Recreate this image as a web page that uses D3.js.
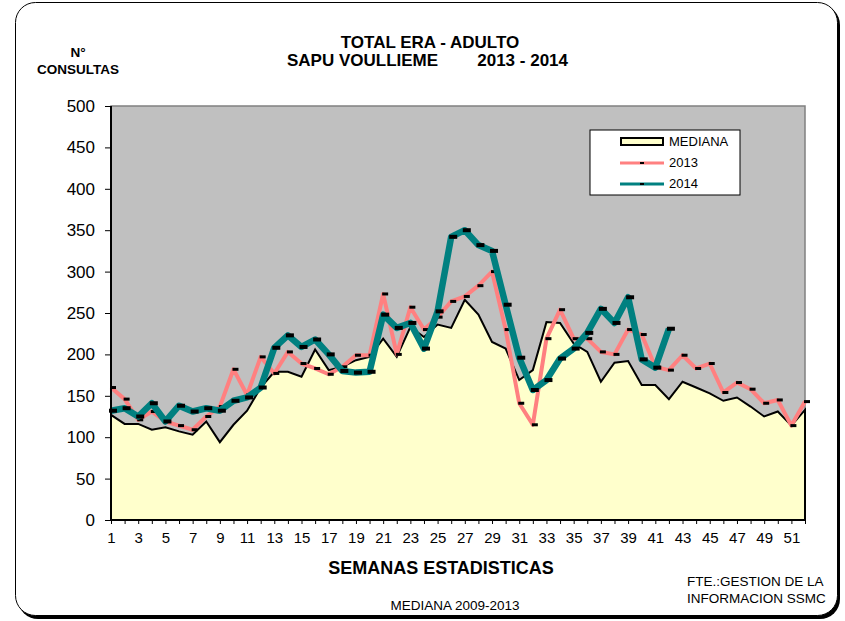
<!doctype html>
<html lang="es">
  <head>
    <meta charset="UTF-8" />
    <title>TOTAL ERA - ADULTO</title>
    <script src="https://unpkg.com/d3@7.9.0/dist/d3.min.js"></script>
    <style>
      body {
        margin: 0;
        background: #fff;
        font-family: Arial, 'Liberation Sans', sans-serif;
        overflow: hidden;
      }
      .tick text {
        fill: #000;
      }
    </style>
  </head>
  <body>
    <svg width="845" height="621"></svg>

    <script>
      const weeks = d3.range(1, 53);
      const xTickLabels = d3.range(1, 53, 2);
      const yTicks = d3.range(0, 501, 50);

      const mediana = [
        127, 116, 116, 109, 112, 107, 103, 119, 94, 115, 132, 160, 179, 179,
        173, 206, 181, 185, 193, 197, 219, 197, 233, 221, 236, 232, 266, 248,
        215, 207, 169, 181, 239, 238, 213, 203, 167, 190, 192, 163, 163, 146,
        167, 160, 153, 144, 148, 137, 125, 131, 114, 133,
      ];
      const s2013 = [
        160, 146, 121, 131, 119, 114, 109, 125, 137, 182, 151, 197, 177, 203,
        189, 183, 176, 185, 199, 199, 273, 200, 257, 230, 245, 264, 270, 283,
        300, 230, 141, 115, 219, 254, 219, 219, 203, 200, 230, 224, 185, 181,
        199, 183, 189, 154, 166, 158, 141, 145, 114, 143,
      ];
      const s2014 = [
        132, 135, 125, 141, 119, 138, 131, 135, 132, 144, 148, 160, 208, 223,
        209, 218, 200, 180, 178, 179, 248, 232, 238, 207, 252, 342, 350, 332,
        325, 260, 196, 157, 169, 195, 207, 226, 255, 238, 269, 194, 184, 231,
      ];

      const svg = d3.select('svg');

      // marco redondeado con sombra
      svg
        .append('rect')
        .attr('x', 18)
        .attr('y', 5)
        .attr('width', 822)
        .attr('height', 614)
        .attr('rx', 20)
        .attr('fill', '#000');
      svg
        .append('rect')
        .attr('x', 15.5)
        .attr('y', 2.5)
        .attr('width', 822)
        .attr('height', 613)
        .attr('rx', 20)
        .attr('fill', '#fff')
        .attr('stroke', '#000')
        .attr('stroke-width', 1);

      const x = d3.scaleLinear().domain([1, 52]).range([111, 805]);
      const y = d3.scaleLinear().domain([0, 500]).range([520, 106]);

      // fondo del area de trazado
      svg
        .append('rect')
        .attr('x', 111)
        .attr('y', 106)
        .attr('width', 805 - 111)
        .attr('height', 520 - 106)
        .attr('fill', '#c0c0c0')
        .attr('stroke', '#808080')
        .attr('stroke-width', 1.5);

      const area = d3
        .area()
        .x((d, i) => x(weeks[i]))
        .y0(y(0))
        .y1((d) => y(d));

      svg
        .append('path')
        .datum(mediana)
        .attr('d', area)
        .attr('fill', '#ffffcc')
        .attr('stroke', '#000')
        .attr('stroke-width', 2)
        .attr('stroke-linejoin', 'miter');

      const line = d3
        .line()
        .x((d, i) => x(weeks[i]))
        .y((d) => y(d));

      function drawSeries(data, color, w, mw, mh) {
        svg
          .append('path')
          .datum(data)
          .attr('d', line)
          .attr('fill', 'none')
          .attr('stroke', color)
          .attr('stroke-width', w)
          .attr('stroke-linejoin', 'round');
        svg
          .append('g')
          .selectAll('rect')
          .data(data)
          .join('rect')
          .attr('x', (d, i) => x(weeks[i]) - mw / 2 + 2)
          .attr('y', (d) => y(d) - mh / 2)
          .attr('width', mw)
          .attr('height', mh)
          .attr('fill', '#000');
      }

      drawSeries(s2013, '#ff8080', 4, 6, 3);
      drawSeries(s2014, '#008080', 6.5, 8, 4);

      // ejes
      const yAxis = svg
        .append('g')
        .attr('transform', 'translate(111,0)')
        .call(
          d3
            .axisLeft(y)
            .tickValues(yTicks)
            .tickSize(6)
            .tickPadding(10),
        );
      yAxis.selectAll('text').style('font-size', '17px');

      const xAxis = svg
        .append('g')
        .attr('transform', 'translate(0,520)')
        .call(
          d3
            .axisBottom(x)
            .tickValues(weeks)
            .tickSize(4)
            .tickPadding(8)
            .tickFormat((d) => (xTickLabels.includes(d) ? d : '')),
        );
      xAxis.selectAll('text').style('font-size', '15px');

      [yAxis, xAxis].forEach((g) => {
        g.select('.domain').attr('stroke', '#000').attr('stroke-width', 2);
        g.selectAll('.tick line').attr('stroke', '#000');
        g.style('font-family', 'Arial, Liberation Sans, sans-serif');
      });
      xAxis.select('.domain').attr('d', 'M111,0H805');
      yAxis.select('.domain').attr('d', 'M0,106V520');

      // titulos
      svg
        .append('text')
        .attr('x', 430)
        .attr('y', 48)
        .attr('text-anchor', 'middle')
        .style('font-weight', 'bold')
        .style('font-size', '17px')
        .text('TOTAL ERA - ADULTO');
      svg
        .append('text')
        .attr('x', 287)
        .attr('y', 66)
        .style('font-weight', 'bold')
        .style('font-size', '17px')
        .text('SAPU VOULLIEME');
      svg
        .append('text')
        .attr('x', 568)
        .attr('y', 66)
        .attr('text-anchor', 'end')
        .style('font-weight', 'bold')
        .style('font-size', '17px')
        .text('2013 - 2014');

      const ylab = svg
        .append('text')
        .attr('text-anchor', 'middle')
        .style('font-weight', 'bold')
        .style('font-size', '13.5px');
      ylab.append('tspan').attr('x', 78).attr('y', 57).text('N°');
      ylab.append('tspan').attr('x', 78).attr('y', 74).text('CONSULTAS');

      svg
        .append('text')
        .attr('x', 441)
        .attr('y', 574)
        .attr('text-anchor', 'middle')
        .style('font-weight', 'bold')
        .style('font-size', '18px')
        .text('SEMANAS ESTADISTICAS');

      const fte = svg.append('text').style('font-size', '13.5px');
      fte.append('tspan').attr('x', 687).attr('y', 586).text('FTE.:GESTION DE LA');
      fte.append('tspan').attr('x', 687).attr('y', 603).text('INFORMACION SSMC');

      svg
        .append('text')
        .attr('x', 455)
        .attr('y', 610)
        .attr('text-anchor', 'middle')
        .style('font-size', '13.5px')
        .text('MEDIANA 2009-2013');

      // leyenda
      const lg = svg.append('g').attr('transform', 'translate(590,130)');
      lg.append('rect')
        .attr('width', 150)
        .attr('height', 65)
        .attr('fill', '#fff')
        .attr('stroke', '#000');
      lg.append('rect')
        .attr('x', 31)
        .attr('y', 8)
        .attr('width', 42)
        .attr('height', 7)
        .attr('fill', '#ffffcc')
        .attr('stroke', '#000')
        .attr('stroke-width', 2);
      lg.append('line')
        .attr('x1', 30)
        .attr('x2', 74)
        .attr('y1', 33)
        .attr('y2', 33)
        .attr('stroke', '#ff8080')
        .attr('stroke-width', 3);
      lg.append('line')
        .attr('x1', 30)
        .attr('x2', 74)
        .attr('y1', 54)
        .attr('y2', 54)
        .attr('stroke', '#008080')
        .attr('stroke-width', 3);
      lg.selectAll('.mk')
        .data([33, 54])
        .join('rect')
        .attr('x', 50)
        .attr('y', (d) => d - 1)
        .attr('width', 4)
        .attr('height', 2)
        .attr('fill', '#000');
      lg.selectAll('text')
        .data(['MEDIANA', '2013', '2014'])
        .join('text')
        .attr('x', 79)
        .attr('y', (d, i) => 16 + i * 21)
        .style('font-size', '13px')
        .text((d) => d);
    </script>
  </body>
</html>
